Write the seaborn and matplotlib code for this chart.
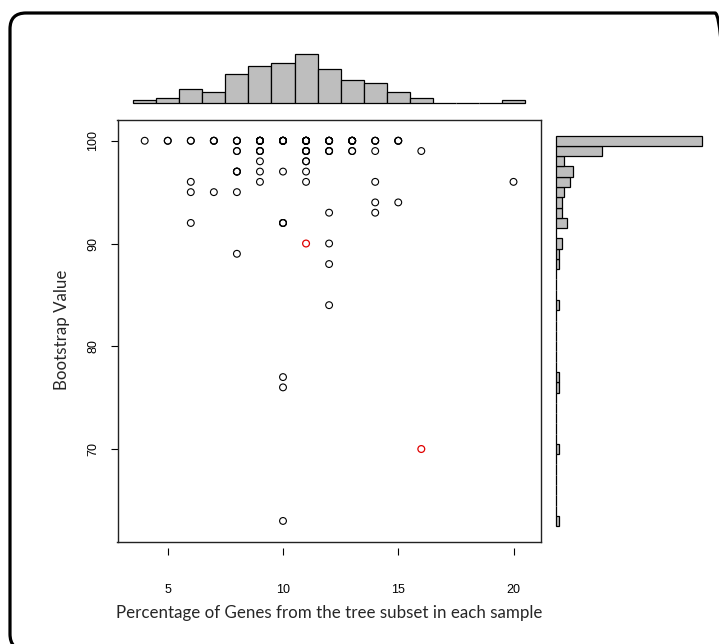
import numpy as np
import pandas as pd
import matplotlib
matplotlib.use("Agg")
import matplotlib.pyplot as plt
from matplotlib.patches import FancyBboxPatch
from matplotlib.transforms import IdentityTransform
import seaborn as sns

# Distinct (percentage, bootstrap) observations and how many samples share each one
pct_vals = [4, 5, 6, 6, 6, 6, 7, 7, 8, 8, 8, 8, 8,
            9, 9, 9, 9, 9, 10, 10, 10, 10, 10, 10,
            11, 11, 11, 11, 11, 11, 12, 12, 12, 12, 12, 12,
            13, 13, 14, 14, 14, 14, 14, 15, 15, 16, 16, 20]
boot_vals = [100, 100, 100, 96, 95, 92, 100, 95, 100, 99, 97, 95, 89,
             100, 99, 98, 97, 96, 100, 97, 92, 77, 76, 63,
             100, 99, 98, 97, 96, 90, 100, 99, 93, 90, 88, 84,
             100, 99, 100, 99, 96, 94, 93, 100, 94, 99, 70, 96]
counts = [1, 2, 2, 1, 1, 1, 3, 1, 3, 2, 3, 1, 1,
          7, 3, 1, 1, 1, 7, 1, 3, 1, 1, 1,
          8, 4, 2, 1, 1, 1, 5, 3, 1, 1, 1, 1,
          6, 2, 3, 1, 1, 1, 1, 3, 1, 1, 1, 1]
# highlighted samples
red_pct = [11, 16]
red_boot = [90, 70]

x_ticks = [5, 10, 15, 20]
y_ticks = [70, 80, 90, 100]

df = pd.DataFrame({
    "pct": np.repeat(pct_vals, counts),
    "boot": np.repeat(boot_vals, counts),
})
is_red = np.zeros(len(df), dtype=bool)
for rx, ry in zip(red_pct, red_boot):
    is_red |= ((df["pct"] == rx) & (df["boot"] == ry)).to_numpy()

sns.set_theme(style="white")
plt.rcParams["font.family"] = ["Liberation Sans", "DejaVu Sans"]

W, H = 719, 644
fig = plt.figure(figsize=(W / 100, H / 100), dpi=100)


def frac(left, top, right, bottom):
    return [left / W, 1 - bottom / H, (right - left) / W, (bottom - top) / H]


ax = fig.add_axes(frac(117.5, 120, 540.7, 541.7))
ax_top = fig.add_axes(frac(117.5, 40, 540.7, 103.3))
ax_right = fig.add_axes(frac(555.7, 120, 715, 541.7))

x_edges = np.arange(3.5, 21.0, 1.0)
y_edges = np.arange(62.5, 101.0, 1.0)
xlim = (3.5 - 0.04 * 17, 20.5 + 0.04 * 17)
ylim = (62.5 - 0.04 * 38, 100.5 + 0.04 * 38)

# main scatter of open circles
sns.scatterplot(data=df[~is_red], x="pct", y="boot", ax=ax, marker="o",
                facecolor="none", edgecolor="black", linewidth=0.8, s=24)
sns.scatterplot(data=df[is_red], x="pct", y="boot", ax=ax, marker="o",
                facecolor="none", edgecolor="#E00000", linewidth=0.9, s=24)
ax.set_xlim(*xlim)
ax.set_ylim(*ylim)
ax.set_xlabel("")
ax.set_ylabel("")
for sp in ax.spines.values():
    sp.set_visible(True)
    sp.set_color("#222222")
    sp.set_linewidth(1.0)
ax.tick_params(axis="x", bottom=False, labelbottom=False)
ax.set_yticks(y_ticks)
ax.tick_params(axis="y", left=True, length=5, width=0.8, color="black",
               labelsize=9, pad=8, labelcolor="black")
for lab in ax.get_yticklabels():
    lab.set_rotation(90)
    lab.set_va("center")
    lab.set_ha("right")

sec = ax.secondary_xaxis(-0.014)
sec.set_xticks(x_ticks)
sec.spines["bottom"].set_visible(False)
sec.tick_params(axis="x", bottom=True, length=5, width=0.8, color="black",
                labelsize=9, pad=21, labelcolor="black")

fig.text(329 / W, 1 - 613 / H, "Percentage of Genes from the tree subset in each sample",
         ha="center", va="center", fontsize=12.2, family=["Lato", "DejaVu Sans"])
fig.text(62 / W, 1 - 330 / H, "Bootstrap Value", rotation=90,
         ha="center", va="center", fontsize=12.2, family=["Lato", "DejaVu Sans"])

# marginal histograms
sns.histplot(x=df["pct"], bins=x_edges, ax=ax_top, color="#BEBEBE",
             edgecolor="black", linewidth=0.9, alpha=1)
ax_top.set_xlim(*xlim)
ax_top.set_ylim(0, 17 * 63.3 / 49)
ax_top.set_axis_off()
for p in ax_top.patches:
    p.set_clip_on(False)

sns.histplot(y=df["boot"], bins=y_edges, ax=ax_right, color="#BEBEBE",
             edgecolor="black", linewidth=0.9, alpha=1)
ax_right.set_ylim(*ylim)
ax_right.set_xlim(0, 50 * 159.3 / 146)
ax_right.set_axis_off()
for p in ax_right.patches:
    p.set_clip_on(False)

# rounded outer frame
frame = FancyBboxPatch((10, -6), 721, H - 13 + 6,
                       boxstyle="round,pad=0,rounding_size=16",
                       facecolor="none", edgecolor="black", linewidth=2.3,
                       transform=IdentityTransform())
fig.add_artist(frame)

fig.savefig("out.png", dpi=100)
